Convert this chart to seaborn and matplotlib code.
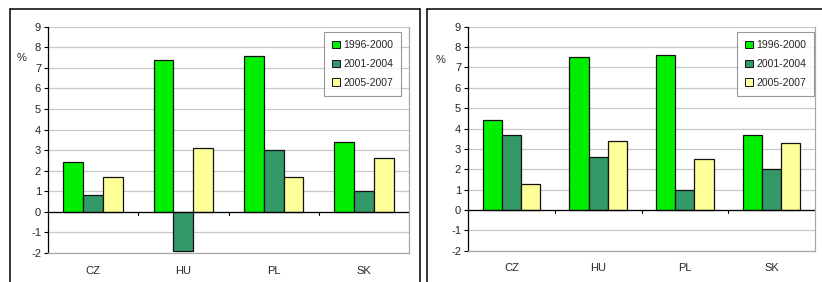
import matplotlib
matplotlib.use("Agg")
import matplotlib.pyplot as plt
import seaborn as sns
import pandas as pd
from matplotlib.patches import Rectangle
from matplotlib.lines import Line2D

countries = ["CZ", "HU", "PL", "SK"]
periods = ["1996-2000", "2001-2004", "2005-2007"]
left_1996_2000 = [2.4, 7.4, 7.6, 3.4]
left_2001_2004 = [0.8, -1.9, 3.0, 1.0]
left_2005_2007 = [1.7, 3.1, 1.7, 2.6]
right_1996_2000 = [4.4, 7.5, 7.6, 3.7]
right_2001_2004 = [3.7, 2.6, 1.0, 2.0]
right_2005_2007 = [1.3, 3.4, 2.5, 3.3]
y_ticks = [-2, -1, 0, 1, 2, 3, 4, 5, 6, 7, 8, 9]
y_label = "%"

colors = ["#00EE00", "#339966", "#FFFF99"]

sns.set_theme(style="white")
plt.rcParams["font.family"] = ["Liberation Sans", "DejaVu Sans"]

fig = plt.figure(figsize=(8.22, 2.82), dpi=100)


def make_df(a, b, c):
    rows = []
    for vals, p in zip([a, b, c], periods):
        for cat, v in zip(countries, vals):
            rows.append({"country": cat, "period": p, "value": v})
    return pd.DataFrame(rows)


def draw(ax, df, pct_xy, leg_x):
    ax.set_axisbelow(True)
    for t in y_ticks:
        ax.axhline(t, color="#C8C8C8", lw=0.9, zorder=0)
    sns.barplot(data=df, x="country", y="value", hue="period", order=countries,
                hue_order=periods, palette=colors, width=0.66, edgecolor="#111111",
                linewidth=0.9, saturation=1, ax=ax, legend=False, zorder=2)
    ax.set_ylim(-2, 9)
    ax.set_xlim(-0.5, 3.5)
    ax.set_yticks(y_ticks)
    ax.set_yticklabels([str(t) for t in y_ticks], fontsize=8)
    ax.set_xlabel("")
    ax.set_ylabel("")
    ax.tick_params(axis="y", length=3, width=0.8, color="black", pad=2, left=True)
    ax.tick_params(axis="x", length=0, pad=9, labelsize=8)
    ax.spines["top"].set_visible(False)
    ax.spines["left"].set_color("black")
    ax.spines["left"].set_linewidth(0.9)
    ax.spines["right"].set_color("#A8A8A8")
    ax.spines["right"].set_linewidth(0.9)
    ax.spines["bottom"].set_color("#A8A8A8")
    ax.spines["bottom"].set_linewidth(0.9)
    ax.axhline(0, color="black", lw=0.9, zorder=3)
    for xb in [0.5, 1.5, 2.5]:
        ax.plot([xb, xb], [0, -0.15], color="black", lw=0.8, zorder=3, clip_on=False)
    handles = [Rectangle((0, 0), 1, 1, facecolor=c, edgecolor="#111111", lw=0.7) for c in colors]
    leg = ax.legend(handles, periods, loc="upper right", bbox_to_anchor=(leg_x, 0.975),
                    fontsize=7.5, frameon=True, fancybox=False, handlelength=0.75,
                    handleheight=0.75, handletextpad=0.3, labelspacing=0.85,
                    borderpad=0.75, borderaxespad=0.0)
    leg.get_frame().set_edgecolor("#808080")
    leg.get_frame().set_linewidth(0.8)
    fig.text(pct_xy[0] / 822, 1 - pct_xy[1] / 282, y_label, fontsize=8, ha="center", va="center")


H = 282.0
W = 822.0
ax1 = fig.add_axes([48 / W, (H - 253) / H, (409 - 48) / W, (253 - 26.7) / H])
draw(ax1, make_df(left_1996_2000, left_2001_2004, left_2005_2007), (22, 58), 0.978)
ax2 = fig.add_axes([468 / W, (H - 250.7) / H, (815 - 468) / W, (250.7 - 26.7) / H])
draw(ax2, make_df(right_1996_2000, right_2001_2004, right_2005_2007), (441, 60), 0.997)

# panel frames
lw = 1.1
fig.add_artist(Line2D([10 / W, 10 / W], [0, (H - 9) / H], color="black", lw=lw, transform=fig.transFigure))
fig.add_artist(Line2D([10 / W, 420 / W], [(H - 9) / H, (H - 9) / H], color="black", lw=lw, transform=fig.transFigure))
fig.add_artist(Line2D([420 / W, 420 / W], [0, (H - 9) / H], color="black", lw=lw, transform=fig.transFigure))
fig.add_artist(Line2D([427 / W, 427 / W], [0, (H - 9) / H], color="black", lw=lw, transform=fig.transFigure))
fig.add_artist(Line2D([427 / W, 1.0], [(H - 9) / H, (H - 9) / H], color="black", lw=lw, transform=fig.transFigure))

fig.savefig("out.png", dpi=100)
